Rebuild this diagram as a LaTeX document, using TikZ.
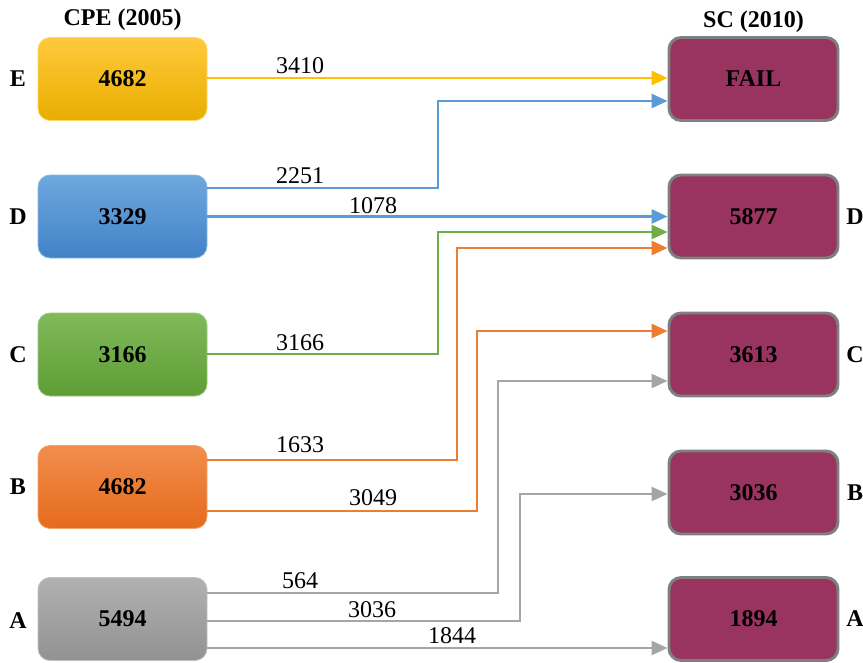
\documentclass[tikz,border=0pt]{standalone}
\usepackage{fontspec}
\setmainfont{Liberation Serif}
\usetikzlibrary{arrows.meta}
\definecolor{cgold}{HTML}{FFC000}
\definecolor{cgoldT}{HTML}{FFC93C}
\definecolor{cgoldB}{HTML}{E9AE00}
\definecolor{cblue}{HTML}{5B9BD5}
\definecolor{cblueT}{HTML}{6EA8DF}
\definecolor{cblueB}{HTML}{4182C6}
\definecolor{cgreen}{HTML}{70AD47}
\definecolor{cgreenT}{HTML}{80BA59}
\definecolor{cgreenB}{HTML}{5E9D36}
\definecolor{corange}{HTML}{ED7D31}
\definecolor{corangeT}{HTML}{F28D4E}
\definecolor{corangeB}{HTML}{E56B1C}
\definecolor{cgray}{HTML}{A5A5A5}
\definecolor{cgrayT}{HTML}{B1B1B1}
\definecolor{cgrayB}{HTML}{929292}
\definecolor{plum}{HTML}{993360}
\definecolor{edgegray}{HTML}{7F7F7F}
\tikzset{
  lbox/.style={rounded corners=9pt, minimum width=126.75pt, minimum height=62.25pt,
    inner sep=0pt, font=\bfseries\fontsize{18}{21}\selectfont, line width=0.6pt},
  rbox/.style={lbox, fill=plum, draw=edgegray, line width=2.2pt},
  tag/.style={font=\bfseries\fontsize{18}{21}\selectfont, inner sep=0pt},
  lab/.style={font=\fontsize{18}{21}\selectfont, anchor=base, inner sep=0pt},
  conn/.style={line width=2.1pt, line join=miter, -{Triangle[length=12pt,width=10.5pt]}}
}
\begin{document}
\begin{tikzpicture}[x=0.75pt,y=-0.75pt]
\useasboundingbox (0,0) rectangle (863,663);
% left boxes
\node[lbox, top color=cgoldT, bottom color=cgoldB, draw=cgold!60!white] (E) at (122.5,79) {4682};
\node[lbox, top color=cblueT, bottom color=cblueB, draw=cblue!70!white] (D) at (122.5,216.5) {3329};
\node[lbox, top color=cgreenT, bottom color=cgreenB, draw=cgreen!70!white] (C) at (122.5,354.5) {3166};
\node[lbox, top color=corangeT, bottom color=corangeB, draw=corange!70!white] (B) at (122.5,487) {4682};
\node[lbox, top color=cgrayT, bottom color=cgrayB, draw=cgray!70!white] (A) at (122.5,619) {5494};
% right boxes
\node[rbox] (F2) at (753.5,79) {FAIL};
\node[rbox] (D2) at (753.5,216.5) {5877};
\node[rbox] (C2) at (753.5,354.5) {3613};
\node[rbox] (B2) at (753.5,492.5) {3036};
\node[rbox] (A2) at (753.5,619) {1894};
% titles and tags
\node[tag] (t1) at (122.5,20) {CPE (2005)};
\node[tag] (t2) at (753.5,22) {SC (2010)};
\node[tag] (lE) at (18,79) {E};
\node[tag] (lD) at (18,216.5) {D};
\node[tag] (lC) at (18,354.5) {C};
\node[tag] (lB) at (18,487) {B};
\node[tag] (lA) at (18,621) {A};
\node[tag] (rD) at (855,216.5) {D};
\node[tag] (rC) at (855,354.5) {C};
\node[tag] (rB) at (855,492.5) {B};
\node[tag] (rA) at (855,619) {A};
% connectors
\draw[conn, cgold] (E.east |- 0,78) -- (F2.west |- 0,78);
\draw[conn, cblue] (D.east |- 0,188) -| (438,101) -- (F2.west |- 0,101);
\draw[conn, cblue] (D.east |- 0,216.5) -- (D2.west |- 0,216.5);
\draw[conn, cgreen] (C.east |- 0,354) -| (438,232) -- (D2.west |- 0,232);
\draw[conn, corange] (B.east |- 0,460) -| (457,248) -- (D2.west |- 0,248);
\draw[conn, corange] (B.east |- 0,511) -| (477,331) -- (C2.west |- 0,331);
\draw[conn, cgray] (A.east |- 0,593) -| (498,381) -- (C2.west |- 0,381);
\draw[conn, cgray] (A.east |- 0,621) -| (520,494) -- (B2.west |- 0,494);
\draw[conn, cgray] (A.east |- 0,648) -- (A2.west |- 0,648);
% labels
\node[lab] (n1) at (300,74) {3410};
\node[lab] (n2) at (300,184) {2251};
\node[lab] (n3) at (373,213) {1078};
\node[lab] (n4) at (300,350) {3166};
\node[lab] (n5) at (300,452) {1633};
\node[lab] (n6) at (373,505) {3049};
\node[lab] (n7) at (300,588) {564};
\node[lab] (n8) at (372,617) {3036};
\node[lab] (n9) at (452,643) {1844};
\end{tikzpicture}
\end{document}
